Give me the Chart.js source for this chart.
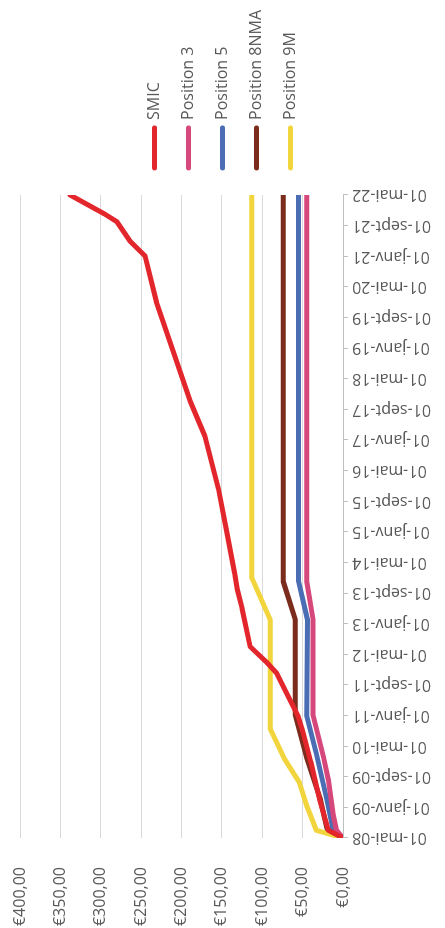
<!DOCTYPE html>
<html>
<head>
<meta charset="utf-8">
<script src="https://cdn.jsdelivr.net/npm/chart.js@4.4.1/dist/chart.umd.min.js"></script>
<title>SMIC et positions</title>
<style>
html, body { margin: 0; padding: 0; overflow: hidden; background: #ffffff; }
/* the chart is drawn upright, then turned a quarter turn to the left */
#wrap { position: absolute; left: 0; top: 0; width: 928px; height: 445px;
        transform-origin: 0 0; transform: translate(0, 928px) rotate(-90deg); }
</style>
</head>
<body>
<div id="wrap"><canvas id="myChart" width="928" height="445"></canvas></div>
<script>
var tickLabels = ['01-mai-08', '01-janv-09', '01-sept-09', '01-mai-10', '01-janv-11', '01-sept-11',
                  '01-mai-12', '01-janv-13', '01-sept-13', '01-mai-14', '01-janv-15', '01-sept-15',
                  '01-mai-16', '01-janv-17', '01-sept-17', '01-mai-18', '01-janv-19', '01-sept-19',
                  '01-mai-20', '01-janv-21', '01-sept-21', '01-mai-22'];

// months counted from 01-mai-08
var smicMonths = [0, 2, 10, 20, 28, 32, 43, 46, 50, 60, 65, 69, 80, 91, 105, 114, 127, 140, 152, 156, 161, 163, 168];
var smicValues = [0, 18, 29, 40, 50, 56, 82, 95, 115, 125, 131, 134, 144, 154, 171, 189, 210, 231, 245, 264, 280, 295, 338];

var pos3Months = [0, 2, 6, 15, 21, 32, 57, 67, 168];
var pos3Values = [0, 8, 12, 18, 24, 37, 37, 45, 45];

var pos5Months = [0, 2, 10, 22, 32, 57, 67, 168];
var pos5Values = [0, 12, 20, 33, 45, 44, 55, 55];

var pos8Months = [0, 2.5, 10.5, 21, 32, 57, 67, 168];
var pos8Values = [0, 20, 28.5, 45, 59, 59, 74, 74];

var pos9Months = [0, 2, 8.5, 14.5, 20.5, 28.5, 57, 68, 168];
var pos9Values = [0, 33, 45, 54, 72, 90, 90, 113, 113];

function points(months, values) {
    var out = [];
    for (var i = 0; i < months.length; i++) out.push({x: months[i], y: values[i]});
    return out;
}

function line(label, color, months, values) {
    return {
        label: label,
        data: points(months, values),
        borderColor: color,
        backgroundColor: color,
        borderWidth: 5,
        borderCapStyle: 'round',
        borderJoinStyle: 'round',
        pointRadius: 0,
        tension: 0
    };
}

// leave a little more room between the plot and the legend
var legendGap = {
    id: 'legendGap',
    afterLayout: function (chart) {
        var gap = 9;
        var x = chart.scales.x;
        x.right -= gap;
        x.width -= gap;
        x.configure();
        chart.chartArea.right -= gap;
        chart.chartArea.width -= gap;
    }
};

Chart.defaults.font.family = "'Open Sans', sans-serif";
Chart.defaults.font.size = 16;
Chart.defaults.color = '#595959';

var chart = new Chart(document.getElementById('myChart'), {
    type: 'line',
    data: {
        datasets: [
            line('SMIC', '#e2262b', smicMonths, smicValues),
            line('Position 3', '#d6477b', pos3Months, pos3Values),
            line('Position 5', '#4b6db4', pos5Months, pos5Values),
            line('Position 8NMA', '#7b2c1c', pos8Months, pos8Values),
            line('Position 9M', '#f2d53c', pos9Months, pos9Values)
        ]
    },
    options: {
        responsive: false,
        animation: false,
        layout: { padding: 0 },
        plugins: {
            tooltip: { enabled: false },
            legend: {
                position: 'right',
                align: 'center',
                labels: {
                    // flat box of height 0, its stroke gives the thick line
                    boxWidth: 40,
                    boxHeight: 0,
                    padding: 18,
                    color: '#595959'
                }
            }
        },
        scales: {
            x: {
                type: 'linear',
                min: 0,
                max: 168,
                grid: { drawOnChartArea: false, drawTicks: true, tickLength: 5, color: '#bfbfbf' },
                border: { color: '#bfbfbf' },
                ticks: {
                    stepSize: 8,
                    autoSkip: false,
                    minRotation: 90,
                    maxRotation: 90,
                    padding: 4,
                    callback: function (value) { return tickLabels[value / 8]; }
                },
                afterFit: function (scale) { scale.height = 102; }
            },
            y: {
                min: 0,
                max: 400,
                grid: { color: '#d9d9d9', drawTicks: false },
                border: { display: false },
                ticks: {
                    stepSize: 50,
                    padding: 29,
                    callback: function (value) { return '€' + value.toFixed(2).replace('.', ','); }
                },
                afterFit: function (scale) { scale.width = 90; scale.paddingTop = 20; }
            }
        }
    },
    plugins: [legendGap]
});
</script>
</body>
</html>
